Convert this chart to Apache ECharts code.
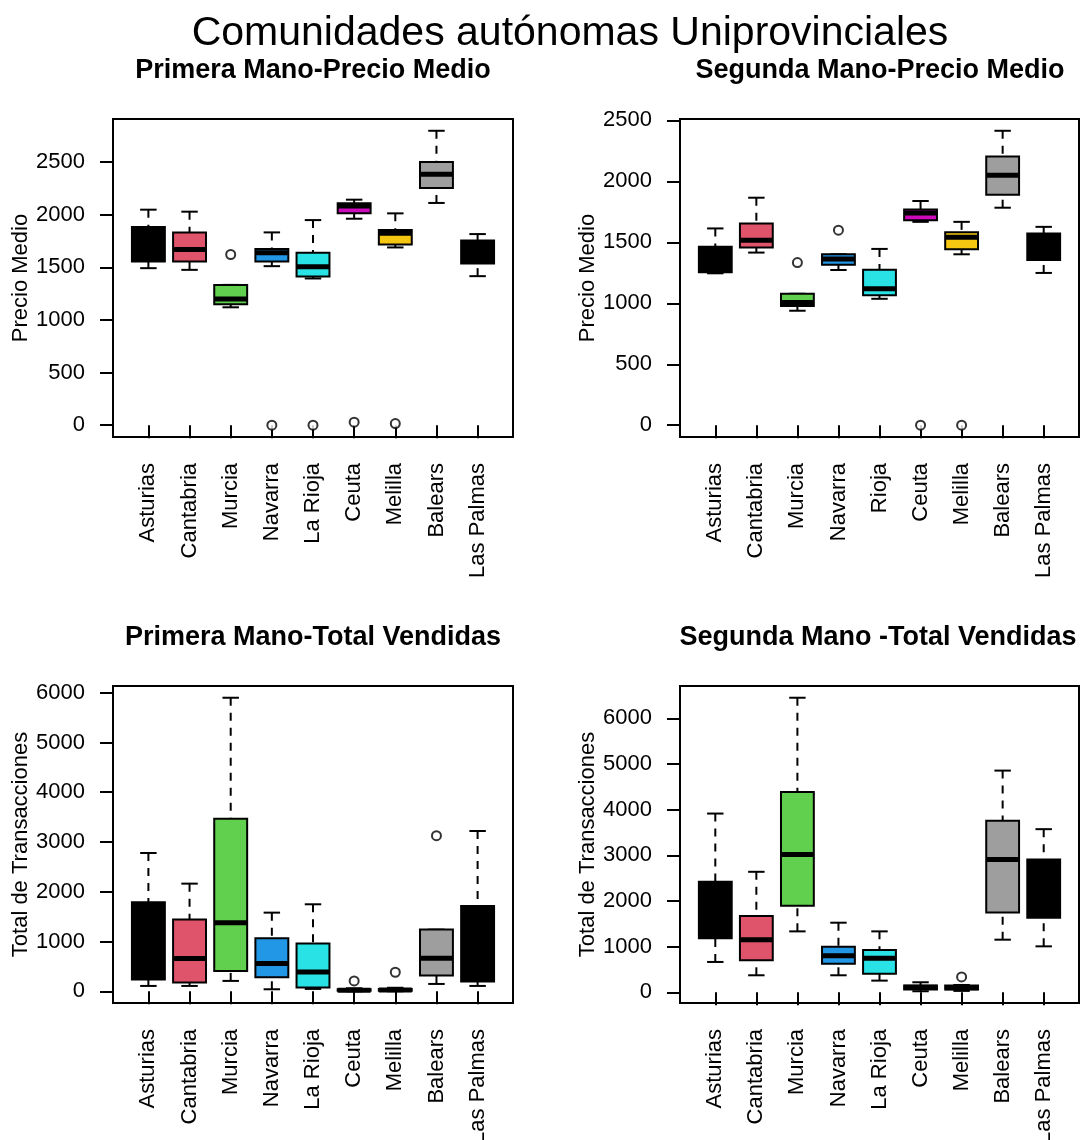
<!DOCTYPE html>
<html><head><meta charset="utf-8">
<script src="https://cdn.jsdelivr.net/npm/echarts@6/dist/echarts.min.js"></script>
<style>html,body{margin:0;padding:0;background:#fff}#c{width:1084px;height:1140px}</style>
</head><body><div id="c"></div>
<script>
// ---------- categories ----------
const categoriesA = ['Asturias','Cantabria','Murcia','Navarra','La Rioja','Ceuta','Melilla','Balears','Las Palmas'];
const categoriesB = ['Asturias','Cantabria','Murcia','Navarra','Rioja','Ceuta','Melilla','Balears','Las Palmas'];
const boxColors = ['#000000','#DF536B','#61D04F','#2297E6','#28E2E5','#CD0BBC','#F5C710','#9E9E9E','#000000'];

// ---------- Panel 1: Primera Mano - Precio Medio ----------
const p1Low  = [1493,1477,1121,1512,1395,1963,1690,2113,1417];
const p1Q1   = [1557,1557,1150,1557,1414,2014,1719,2256,1538];
const p1Med  = [1750,1671,1201,1639,1506,2084,1824,2386,1650];
const p1Q3   = [1884,1833,1334,1674,1639,2109,1855,2503,1757];
const p1High = [2049,2030,1334,1833,1950,2144,2014,2799,1817];
const p1Out  = [[3,1623],[4,0],[5,0],[6,29],[7,16]];

// ---------- Panel 2: Segunda Mano - Precio Medio ----------
const p2Low  = [1246,1416, 939,1273,1037,1668,1402,1784,1249];
const p2Q1   = [1254,1457, 977,1317,1065,1682,1443,1891,1356];
const p2Med  = [1360,1518,1007,1364,1120,1740,1542,2050,1470];
const p2Q3   = [1463,1655,1078,1402,1276,1770,1583,2204,1572];
const p2High = [1614,1866,1078,1402,1446,1839,1668,2415,1627];
const p2Out  = [[3,1334],[4,1600],[6,0],[7,0]];

// ---------- Panel 3: Primera Mano - Total Vendidas ----------
const p3Low  = [ 107, 107, 208,  40,  47,   0,   0, 147, 107];
const p3Q1   = [ 234, 174, 408, 281,  74,   8,  10, 315, 194];
const p3Med  = [ 900, 656,1379, 556, 388,  20,  25, 663, 800];
const p3Q3   = [1788,1440,3469,1065, 958,  40,  45,1239,1714];
const p3High = [2779,2163,5899,1580,1748,  60,  70,1239,3221];
const p3Out  = [[6,208],[7,382],[8,3127]];

// ---------- Panel 4: Segunda Mano - Total Vendidas ----------
const p4Low  = [ 664, 372,1334, 372, 255,  22,  30,1152,1006];
const p4Q1   = [1181, 700,1896, 627, 408,  60,  60,1750,1633];
const p4Med  = [1800,1152,3018, 802, 744, 110, 100,2909,2300];
const p4Q3   = [2421,1670,4389, 999, 926, 150, 150,3755,2909];
const p4High = [3915,2639,6452,1524,1334, 219, 160,4856,3573];
const p4Out  = [[7,335]];

// ---------- tick labels ----------
const precioTicks = [0,500,1000,1500,2000,2500];
const totalTicks  = [0,1000,2000,3000,4000,5000,6000];
const catPositions = [1,2,3,4,5,6,7,8,9];

const titles = ['Primera Mano-Precio Medio','Segunda Mano-Precio Medio','Primera Mano-Total Vendidas','Segunda Mano -Total Vendidas'];
const mainTitle = 'Comunidades autónomas Uniprovinciales';
const yNames = ['Precio Medio','Precio Medio','Total de Transacciones','Total de Transacciones'];

const FONT = '"Liberation Sans", Arial, Helvetica, sans-serif';
const LABEL_SIZE = 22;

const panels = [
  {low:p1Low,q1:p1Q1,med:p1Med,q3:p1Q3,high:p1High,out:p1Out,cats:categoriesA,ticks:precioTicks},
  {low:p2Low,q1:p2Q1,med:p2Med,q3:p2Q3,high:p2High,out:p2Out,cats:categoriesB,ticks:precioTicks},
  {low:p3Low,q1:p3Q1,med:p3Med,q3:p3Q3,high:p3High,out:p3Out,cats:categoriesA,ticks:totalTicks},
  {low:p4Low,q1:p4Q1,med:p4Med,q3:p4Q3,high:p4High,out:p4Out,cats:categoriesA,ticks:totalTicks}
];

const grids = [
  {left:113, right:571, top:119, bottom:703},
  {left:680, right:5,   top:119, bottom:703},
  {left:113, right:571, top:686, bottom:137},
  {left:680, right:5,   top:686, bottom:137}
];

function renderBox(params, api) {
  const x = api.value(0);
  const low = api.coord([x, api.value(1)]);
  const q1 = api.coord([x, api.value(2)]);
  const med = api.coord([x, api.value(3)]);
  const q3 = api.coord([x, api.value(4)]);
  const high = api.coord([x, api.value(5)]);
  const bw = api.size([0.8, 0])[0];
  const sw = api.size([0.4, 0])[0];
  const cx = low[0];
  const fill = boxColors[params.dataIndex];
  const dash = {stroke:'#000', lineWidth:2, lineDash:[8,7], fill:null};
  const solid = {stroke:'#000', lineWidth:2, fill:null};
  return {type:'group', children:[
    {type:'line', shape:{x1:cx,y1:high[1],x2:cx,y2:q3[1]}, style:dash},
    {type:'line', shape:{x1:cx,y1:low[1],x2:cx,y2:q1[1]}, style:dash},
    {type:'line', shape:{x1:cx-sw/2,y1:high[1],x2:cx+sw/2,y2:high[1]}, style:solid},
    {type:'line', shape:{x1:cx-sw/2,y1:low[1],x2:cx+sw/2,y2:low[1]}, style:solid},
    {type:'rect', shape:{x:cx-bw/2,y:q3[1],width:bw,height:q1[1]-q3[1]}, style:{fill:fill, stroke:'#000', lineWidth:2}},
    {type:'line', shape:{x1:cx-bw/2,y1:med[1],x2:cx+bw/2,y2:med[1]}, style:{stroke:'#000', lineWidth:5}}
  ]};
}

const subStyle = {fontFamily:FONT, fontSize:27, fontWeight:'bold', color:'#000'};
const option = {
  animation:false,
  backgroundColor:'#fff',
  title:[
    {text:mainTitle, left:570, textAlign:'center', top:13, padding:0, textStyle:{fontFamily:FONT, fontSize:41, fontWeight:'normal', color:'#000'}},
    {text:titles[0], left:313, textAlign:'center', top:57, padding:0, textStyle:subStyle},
    {text:titles[1], left:880, textAlign:'center', top:57, padding:0, textStyle:subStyle},
    {text:titles[2], left:313, textAlign:'center', top:624, padding:0, textStyle:subStyle},
    {text:titles[3], left:878, textAlign:'center', top:624, padding:0, textStyle:subStyle}
  ],
  grid: grids.map(g => Object.assign({show:true, borderColor:'#000', borderWidth:2, backgroundColor:'transparent',
    containLabel:false, outerBoundsMode:'none'}, g)),
  xAxis: panels.map((p, i) => {
    const n = p.cats.length, lo = 0.5, hi = n + 0.5, pad = 0.04 * (hi - lo);
    return {
      type:'value', gridIndex:i, min:lo - pad, max:hi + pad,
      axisLine:{show:false}, splitLine:{show:false},
      axisTick:{show:true, length:13, lineStyle:{color:'#000', width:2}, customValues:catPositions},
      axisLabel:{show:true, rotate:90, margin:26, fontSize:LABEL_SIZE, fontFamily:FONT, color:'#000', customValues:catPositions,
        hideOverlap:false, formatter:(v) => p.cats[Math.round(v) - 1]}
    };
  }),
  yAxis: panels.map((p, i) => {
    const vals = p.low.concat(p.high, p.out.map(o => o[1]));
    const lo = Math.min(...vals), hi = Math.max(...vals), pad = 0.04 * (hi - lo);
    return {
      type:'value', gridIndex:i, min:lo - pad, max:hi + pad,
      name:yNames[i], nameLocation:'middle', nameRotate:90, nameGap:77,
      nameTextStyle:{fontFamily:FONT, fontSize:LABEL_SIZE, color:'#000'},
      axisLine:{show:false}, splitLine:{show:false},
      axisTick:{show:true, length:13, lineStyle:{color:'#000', width:2}, customValues:p.ticks},
      axisLabel:{show:true, margin:28, fontSize:LABEL_SIZE, fontFamily:FONT, color:'#000', customValues:p.ticks,
        formatter:(v) => String(Math.round(v))}
    };
  }),
  series: []
};

panels.forEach((p, i) => {
  option.series.push({
    type:'custom', xAxisIndex:i, yAxisIndex:i, renderItem:renderBox, clip:false,
    data: p.low.map((v, k) => [k + 1, p.low[k], p.q1[k], p.med[k], p.q3[k], p.high[k]])
  });
  option.series.push({
    type:'scatter', xAxisIndex:i, yAxisIndex:i, symbol:'circle', symbolSize:9, z:5,
    itemStyle:{color:'#fff', borderColor:'#000', borderWidth:2},
    data: p.out
  });
});

const chart = echarts.init(document.getElementById('c'), null, {renderer:'canvas'});
chart.setOption(option);
</script>
</body></html>
